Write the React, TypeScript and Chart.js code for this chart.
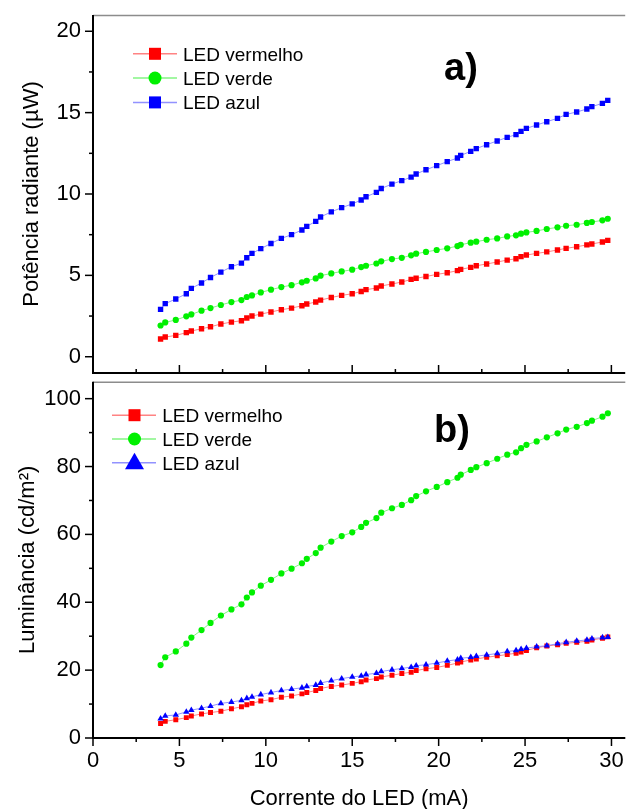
import React, { useEffect, useRef } from 'react';
import { Chart, registerables } from 'chart.js';

Chart.register(...registerables);

// ---------- data ----------
const currentMA = [3.91, 4.18, 4.79, 5.40, 5.69, 6.28, 6.80, 7.40, 8.01, 8.59, 8.90, 9.20, 9.71, 10.30, 10.90, 11.49, 12.09, 12.37, 12.89, 13.17, 13.79, 14.39, 15.0, 15.52, 15.80, 16.40, 16.68, 17.30, 17.87, 18.41, 18.70, 19.27, 19.89, 20.5, 21.09, 21.28, 21.86, 22.18, 22.78, 23.39, 23.97, 24.48, 24.77, 25.08, 25.67, 26.26, 26.88, 27.38, 27.99, 28.58, 28.87, 29.48, 29.79];

const powerRed = [1.09, 1.21, 1.31, 1.48, 1.58, 1.72, 1.84, 2.01, 2.13, 2.21, 2.38, 2.50, 2.62, 2.75, 2.89, 2.99, 3.13, 3.24, 3.36, 3.48, 3.64, 3.77, 3.87, 4.01, 4.12, 4.22, 4.35, 4.47, 4.59, 4.75, 4.82, 4.93, 5.06, 5.16, 5.29, 5.37, 5.49, 5.59, 5.70, 5.82, 5.94, 6.02, 6.15, 6.25, 6.35, 6.44, 6.56, 6.66, 6.76, 6.87, 6.93, 7.05, 7.15];
const powerGreen = [1.92, 2.11, 2.26, 2.48, 2.60, 2.83, 2.99, 3.18, 3.36, 3.48, 3.67, 3.77, 3.95, 4.12, 4.28, 4.40, 4.57, 4.67, 4.81, 4.98, 5.12, 5.24, 5.35, 5.51, 5.59, 5.73, 5.86, 6.00, 6.08, 6.23, 6.33, 6.44, 6.56, 6.66, 6.80, 6.88, 7.01, 7.07, 7.19, 7.27, 7.39, 7.46, 7.56, 7.64, 7.73, 7.85, 7.95, 8.05, 8.11, 8.22, 8.28, 8.38, 8.48];
const powerBlue = [2.91, 3.26, 3.55, 3.87, 4.20, 4.53, 4.87, 5.20, 5.53, 5.75, 6.08, 6.35, 6.64, 6.96, 7.27, 7.50, 7.79, 8.01, 8.32, 8.59, 8.90, 9.16, 9.39, 9.63, 9.83, 10.10, 10.34, 10.61, 10.82, 11.04, 11.23, 11.49, 11.74, 11.99, 12.21, 12.37, 12.62, 12.79, 13.03, 13.26, 13.48, 13.65, 13.85, 14.03, 14.24, 14.44, 14.65, 14.89, 15.04, 15.22, 15.37, 15.57, 15.75];

const lumRed = [4.3, 4.9, 5.4, 6.0, 6.5, 7.1, 7.5, 7.9, 8.6, 9.2, 9.8, 10.2, 10.9, 11.3, 12.0, 12.4, 13.0, 13.4, 14.0, 14.6, 15.2, 15.6, 16.1, 16.6, 17.1, 17.5, 18.0, 18.5, 19.0, 19.4, 19.9, 20.4, 20.8, 21.4, 22.1, 22.4, 23.0, 23.3, 23.8, 24.2, 24.6, 25.0, 25.3, 25.8, 26.6, 27.1, 27.5, 27.9, 28.2, 28.5, 28.9, 29.4, 29.8];
const lumGreen = [21.5, 23.8, 25.5, 27.8, 29.6, 31.8, 33.9, 36.1, 37.9, 39.4, 41.4, 42.9, 44.9, 46.6, 48.5, 49.9, 51.5, 52.8, 54.5, 56.1, 57.9, 59.5, 60.6, 62.2, 63.4, 64.8, 66.4, 67.7, 68.7, 70.1, 71.3, 72.7, 74.0, 75.4, 76.7, 77.6, 79.0, 79.8, 81.0, 82.3, 83.5, 84.2, 85.4, 86.4, 87.4, 88.6, 89.8, 90.9, 91.7, 92.8, 93.5, 94.7, 95.7];
const lumBlue = [5.7, 6.5, 6.8, 7.7, 8.2, 8.8, 9.4, 10.2, 10.6, 11.1, 11.7, 12.1, 12.8, 13.4, 14.0, 14.4, 14.8, 15.2, 15.6, 16.2, 16.9, 17.5, 18.0, 18.3, 18.7, 19.1, 19.6, 20.1, 20.5, 20.9, 21.3, 21.6, 22.1, 22.7, 23.1, 23.5, 23.8, 24.1, 24.5, 24.9, 25.5, 25.8, 26.2, 26.5, 26.9, 27.2, 27.8, 28.2, 28.6, 28.9, 29.3, 29.6, 29.7];

const xTicks = [0, 5, 10, 15, 20, 25, 30];
const xMinorTicks = [2.5, 7.5, 12.5, 17.5, 22.5, 27.5];
const powerTicks = [0, 5, 10, 15, 20];
const powerMinorTicks = [2.5, 7.5, 12.5, 17.5];
const lumTicks = [0, 20, 40, 60, 80, 100];
const lumMinorTicks = [10, 30, 50, 70, 90];

const seriesLabels = ['LED vermelho', 'LED verde', 'LED azul'];
const xTitle = 'Corrente do LED (mA)';
const powerTitle = 'Potência radiante (µW)';
const lumTitle = 'Luminância (cd/m²)';
const panelLabels = ['a)', 'b)'];

// ---------- styles ----------
const FONT = '"Liberation Sans", Arial, Helvetica, sans-serif';
const SOLID = ['#ff0000', '#00f000', '#0000ff'];
const LIGHT = ['rgba(255,90,90,0.75)', 'rgba(90,240,90,0.75)', 'rgba(110,110,255,0.75)'];

function markerPath(ctx: CanvasRenderingContext2D, style: string, x: number, y: number, s: number) {
  ctx.beginPath();
  if (style === 'rect') {
    ctx.rect(x - s / 2, y - s / 2, s, s);
  } else if (style === 'circle') {
    ctx.arc(x, y, s / 2, 0, Math.PI * 2);
  } else {
    const r = s / Math.sqrt(3);
    const cy = y + 1;
    ctx.moveTo(x, cy - r);
    ctx.lineTo(x + s / 2, cy + r / 2);
    ctx.lineTo(x - s / 2, cy + r / 2);
    ctx.closePath();
  }
  ctx.fill();
}

const decorPlugin = {
  id: 'decor',
  afterDraw(chart: any, _args: any, opts: any) {
    const { ctx, chartArea } = chart;
    const { left, right, top, bottom } = chartArea;
    const xs = chart.scales.x;
    const ys = chart.scales.y;
    ctx.save();
    // top frame line
    ctx.strokeStyle = '#8c8c8c';
    ctx.lineWidth = 1.5;
    ctx.beginPath();
    ctx.moveTo(left, top + 0.5);
    ctx.lineTo(right, top + 0.5);
    ctx.stroke();
    // ticks
    ctx.strokeStyle = '#000';
    ctx.lineWidth = 1.5;
    const xDir = opts.xInside ? -1 : 1;
    const drawX = (vals: number[], len: number) =>
      vals.forEach((v) => {
        const px = xs.getPixelForValue(v);
        ctx.beginPath();
        ctx.moveTo(px, bottom);
        ctx.lineTo(px, bottom + xDir * len);
        ctx.stroke();
      });
    const drawY = (vals: number[], len: number) =>
      vals.forEach((v) => {
        const py = ys.getPixelForValue(v);
        ctx.beginPath();
        ctx.moveTo(left, py);
        ctx.lineTo(left - len, py);
        ctx.stroke();
      });
    drawX(opts.xMajor, 8);
    drawX(opts.xMinor, 4);
    drawY(opts.yMajor, 8);
    drawY(opts.yMinor, 4);
    // axes
    ctx.lineWidth = 2;
    ctx.beginPath();
    ctx.moveTo(left, top);
    ctx.lineTo(left, bottom);
    ctx.lineTo(right, bottom);
    ctx.stroke();
    // legend
    const lg = opts.legend;
    chart.data.datasets.forEach((ds: any, i: number) => {
      const y = top + lg.y0 + i * lg.dy;
      ctx.strokeStyle = ds.borderColor;
      ctx.lineWidth = 1.5;
      ctx.beginPath();
      ctx.moveTo(left + lg.x1, y);
      ctx.lineTo(left + lg.x2, y);
      ctx.stroke();
      ctx.fillStyle = ds.pointBackgroundColor;
      const size = ds.pointStyle === 'rect' ? 12 : ds.pointStyle === 'circle' ? 13 : 19;
      markerPath(ctx, ds.pointStyle, left + lg.xm, y, size);
      ctx.fillStyle = '#000';
      ctx.font = `19px ${FONT}`;
      ctx.textAlign = 'left';
      ctx.textBaseline = 'alphabetic';
      ctx.fillText(ds.label, left + lg.xt, y + 0.36 * 19);
    });
    // panel label
    ctx.fillStyle = '#000';
    ctx.font = `bold 38px ${FONT}`;
    ctx.textAlign = 'left';
    ctx.textBaseline = 'alphabetic';
    ctx.fillText(opts.panel, left + opts.panelDx, top + opts.panelDy);
    ctx.restore();
  },
};

function makeDatasets(vals: number[][], styles: string[], radii: number[]) {
  return vals.map((v, i) => ({
    label: seriesLabels[i],
    data: currentMA.map((x, j) => ({ x, y: v[j] })),
    showLine: true,
    borderColor: LIGHT[i],
    borderWidth: 1,
    pointStyle: styles[i],
    pointRadius: radii[i],
    pointBackgroundColor: SOLID[i],
    pointBorderWidth: 0,
    pointHoverRadius: radii[i],
    order: i === 2 ? 0 : i === 1 ? 1 : 2,
  }));
}

function buildConfig(top: boolean): any {
  const xAxisHeight = top ? 5 : 76;
  const yTicks = top ? powerTicks : lumTicks;
  const datasets = top
    ? makeDatasets([powerRed, powerGreen, powerBlue], ['rect', 'circle', 'rect'], [3.8, 3.1, 3.8])
    : makeDatasets([lumRed, lumGreen, lumBlue], ['rect', 'circle', 'triangle'], [3.5, 3.1, 3.7]);
  return {
    type: 'scatter',
    data: { datasets },
    plugins: [decorPlugin],
    options: {
      animation: false,
      responsive: false,
      events: [],
      layout: { padding: { top: top ? 15 : 2, left: 0, right: 0, bottom: 0 } },
      scales: {
        x: {
          type: 'linear',
          min: 0,
          max: 30.8,
          afterBuildTicks: (s: any) => {
            s.ticks = xTicks.map((v) => ({ value: v }));
          },
          afterFit: (s: any) => {
            s.height = xAxisHeight;
            s.paddingLeft = 0;
            s.paddingRight = 0;
            s.paddingTop = 0;
            s.paddingBottom = 0;
          },
          grid: { display: false, drawTicks: false, tickLength: 0 },
          border: { display: false },
          ticks: {
            display: !top,
            padding: 10,
            color: '#000',
            font: { family: FONT, size: 22 },
            maxRotation: 0,
            autoSkip: false,
          },
          title: top
            ? { display: false }
            : {
                display: true,
                text: xTitle,
                color: '#000',
                font: { family: FONT, size: 22 },
                padding: { top: 0, bottom: 2 },
              },
        },
        y: {
          type: 'linear',
          min: top ? -1 : 0,
          max: top ? 21 : 105,
          afterBuildTicks: (s: any) => {
            s.ticks = yTicks.map((v) => ({ value: v }));
          },
          afterFit: (s: any) => {
            s.width = 93;
            s.paddingLeft = 0;
            s.paddingRight = 0;
            s.paddingTop = 0;
            s.paddingBottom = 0;
          },
          grid: { display: false, drawTicks: false, tickLength: 0 },
          border: { display: false },
          ticks: {
            padding: 12,
            color: '#000',
            font: { family: FONT, size: 22 },
          },
          title: {
            display: true,
            text: top ? powerTitle : lumTitle,
            color: '#000',
            font: { family: FONT, size: 22 },
            padding: { top: top ? 19 : 15, bottom: 0 },
          },
        },
      },
      plugins: {
        legend: { display: false },
        tooltip: { enabled: false },
        decor: {
          xInside: top,
          xMajor: xTicks,
          xMinor: xMinorTicks,
          yMajor: yTicks,
          yMinor: top ? powerMinorTicks : lumMinorTicks,
          legend: top
            ? { y0: 38.8, dy: 24.3, x1: 40, x2: 84, xm: 62, xt: 90 }
            : { y0: 33.5, dy: 23.8, x1: 19, x2: 63, xm: 41.5, xt: 69.3 },
          panel: top ? panelLabels[0] : panelLabels[1],
          panelDx: top ? 351 : 341,
          panelDy: top ? 65 : 60,
        },
      },
    },
  };
}

function Panel({ top, y, h }: { top: boolean; y: number; h: number }) {
  const ref = useRef<HTMLCanvasElement | null>(null);
  useEffect(() => {
    if (!ref.current) return;
    const chart = new Chart(ref.current, buildConfig(top));
    return () => chart.destroy();
  }, [top]);
  return (
    <canvas
      ref={ref}
      width={629}
      height={h}
      style={{ position: 'absolute', left: 0, top: y, width: 629, height: h, display: 'block' }}
    />
  );
}

export default function App() {
  return (
    <div
      style={{
        position: 'absolute',
        left: 0,
        top: 0,
        width: 629,
        height: 809,
        overflow: 'hidden',
        background: '#fff',
      }}
    >
      <Panel top={true} y={0} h={378} />
      <Panel top={false} y={378} h={436} />
    </div>
  );
}
